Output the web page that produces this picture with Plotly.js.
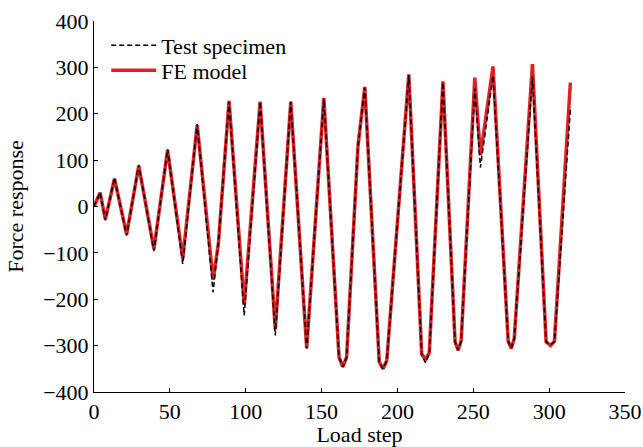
<!DOCTYPE html>
<html>
<head>
<meta charset="utf-8">
<script src="https://cdn.plot.ly/plotly-3.0.1.min.js"></script>
<style>html,body{margin:0;padding:0;background:#fff;}#chart{width:643px;height:447px;}</style>
</head>
<body>
<div id="chart"></div>
<script>
// Load steps (vertices)
const loadStep = [0, 4, 7.5, 13.5, 21.5, 29.5, 39.5, 48.5, 58.5, 68, 78.5, 82, 89, 99, 109.5, 119.5, 129.7, 140.2, 151.5, 161.5, 164, 166.5, 174, 178.5, 188, 190.5, 193, 207.5, 216, 218.5, 221, 230, 238, 240, 242, 251, 254.7, 263, 273, 275, 277, 289, 298, 301, 303.5, 314];
// Test specimen force response
const testForce = [0, 30, -30, 62, -63, 90, -96, 124, -124, 178, -185, -77, 226, -235, 226, -278, 226, -306, 232, -325, -346, -325, 130, 256, -335, -350, -332, 283, -320, -337, -318, 268, -292, -310, -290, 255, 84, 282, -290, -306, -285, 280, -292, -298, -292, 210];
// FE model force response
const feForce = [0, 30, -28, 60, -60, 88, -92, 122, -112, 176, -158, -80, 228, -212, 226, -265, 226, -306, 234, -325, -346, -325, 130, 258, -335, -350, -332, 285, -318, -330, -315, 270, -292, -310, -290, 278, 110, 302, -290, -306, -285, 307, -292, -300, -290, 267];

const traces = [
  {x: loadStep, y: feForce, name: 'FE model', type: 'scatter', mode: 'lines',
   line: {color: '#dc2222', width: 3.5}, legend: 'legend2'},
  {x: loadStep, y: testForce, name: 'Test specimen', type: 'scatter', mode: 'lines',
   line: {color: '#000000', width: 1.5, dash: '5px,3px'}, legend: 'legend'}
];

const font = {family: '"Liberation Serif", "Times New Roman", serif', size: 22, color: '#000'};

const legBase = {xanchor: 'left', yanchor: 'middle', bgcolor: 'rgba(0,0,0,0)', font: font, itemwidth: 45};

const layout = {
  width: 643, height: 447,
  margin: {l: 93.5, r: 18, t: 20.5, b: 55, pad: 0},
  paper_bgcolor: '#fff', plot_bgcolor: '#fff',
  font: font,
  showlegend: true,
  legend: Object.assign({x: 0.023, y: (392 - 45) / 371.5}, legBase),
  legend2: Object.assign({x: 0.023, y: (392 - 70) / 371.5}, legBase),
  xaxis: {range: [0, 350], dtick: 50, tick0: 0, showline: true, linecolor: '#000', linewidth: 1,
          ticks: 'inside', ticklen: 4, tickcolor: '#000', showgrid: false, zeroline: false,
          tickfont: font, title: {text: 'Load step', font: font, standoff: 0}},
  yaxis: {range: [-400, 400], dtick: 100, tick0: 0, showline: true, linecolor: '#000', linewidth: 1,
          ticks: 'inside', ticklen: 4, tickcolor: '#000', showgrid: false, zeroline: false,
          tickfont: font, title: {text: 'Force response', font: font, standoff: 13}}
};

Plotly.newPlot('chart', traces, layout, {displayModeBar: false, staticPlot: true});
</script>
</body>
</html>
